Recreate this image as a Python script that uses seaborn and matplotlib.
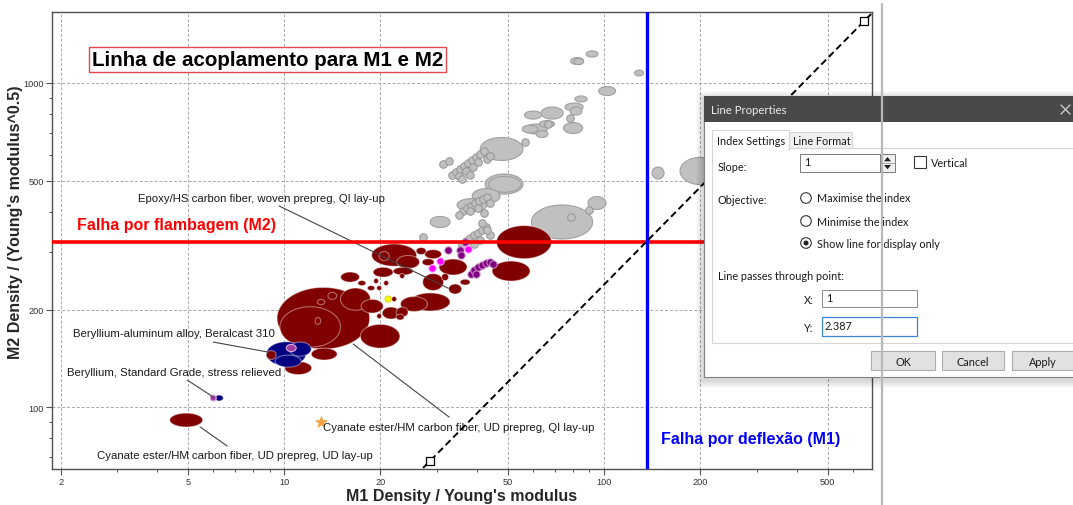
import numpy as np
import pandas as pd
import matplotlib
matplotlib.use("Agg")
import matplotlib.pyplot as plt
from matplotlib.patches import Rectangle, Circle, Polygon
from matplotlib.ticker import FixedLocator, FixedFormatter, LogLocator, NullFormatter
import seaborn as sns

sns.set_style("white")
plt.rcParams['font.family'] = ['Liberation Sans', 'DejaVu Sans']

# ---------------- data (property ranges: M1 lo/hi, M2 lo/hi) ----------------
red_x_lo = [9.5, 9.7, 17.3, 15.0, 17.4, 13.7, 12.7, 12.5, 10.04, 12.15, 18.77, 19.8, 15.02, 18.97, 21.9,
            22.47, 25.85, 26.99, 27.48, 30.48, 27.1, 31.05, 32.66, 35.48, 17.0, 18.2, 19.47, 19.05, 20.47,
            22.96, 21.67, 24.76, 23.1, 20.25, 22.39, 22.39, 19.47, 46.1, 44.67, 4.387, 8.79]
red_x_hi = [18.5, 15.0, 23.0, 18.6, 20.4, 14.6, 13.4, 13.0, 12.19, 14.64, 25.94, 21.3, 17.2, 21.9, 25.3,
            26.5, 27.79, 29.43, 31.05, 37.3, 31.5, 32.66, 35.87, 38.13, 18.0, 19.2, 20.17, 19.72, 21.2,
            23.8, 22.47, 33.0, 28.05, 23.04, 24.4, 23.71, 20.17, 68.5, 58.7, 5.564, 9.44]
red_y_lo = [151, 153, 152, 199, 195, 215, 207, 180, 126, 139.7, 272, 283, 243, 251.8, 255.5,
            267.6, 295.6, 273.3, 287, 255.5, 228.9, 245.7, 223.3, 238, 237, 228.9, 228.9, 240.6, 237,
            249.3, 211.6, 197.9, 197.2, 186.9, 189.6, 185.6, 187.5, 287, 244.8, 86.8, 140.2]
red_y_hi = [234, 204, 180, 233, 215, 226, 215, 189, 138.2, 152, 318.6, 302, 261, 270, 270,
            293.6, 310.6, 287, 306, 286.3, 258, 258.3, 239.7, 248, 245.7, 237, 237, 249.5, 245.7,
            258.3, 219.3, 225, 219.3, 203.5, 203.5, 193.6, 194.4, 363, 282.2, 95.8, 149.4]

navy_x_lo = [8.8, 10.37, 9.37, 6.085]
navy_x_hi = [11.7, 12.15, 11.3, 6.45]
navy_y_lo = [134, 143.6, 132.8, 104.4]
navy_y_hi = [159, 158.7, 144.6, 108.9]

purple_x_lo = [10.15, 5.873]
purple_x_hi = [10.9, 6.131]
purple_y_lo = [148.3, 104.4]
purple_y_hi = [156, 108.9]

yellow_x_lo = [20.68]
yellow_x_hi = [21.6]
yellow_y_lo = [210.9]
yellow_y_hi = [220]

gray_x_lo = [59.3, 89.1, 41.0, 42.5, 43.5, 38.7, 34.7, 28.6, 56.6, 61.3, 78.6, 80.5, 87.9, 124.6, 96.2,
             81.1, 75.5, 78.3, 63.5, 56.4, 62.8, 55.5, 74.7, 141.3, 172.8]
gray_x_hi = [92.1, 101.4, 55.8, 55.8, 55.0, 47.3, 43.1, 33.0, 66.4, 66.8, 86.3, 86.3, 95.7, 132.8, 108.6,
             88.5, 86.0, 85.3, 74.5, 63.8, 70.0, 62.2, 85.7, 154.0, 230.4]
gray_y_lo = [330, 407, 576.7, 454, 460, 424.9, 401.3, 358, 696, 678.9, 1140, 1140, 1202, 1051, 915,
             873.6, 819.6, 796, 774, 774, 729, 701, 698.5, 505.5, 486]
gray_y_hi = [420.3, 446.3, 678.9, 523.9, 515, 472, 440, 387.5, 747, 712.9, 1198, 1190, 1256, 1096, 975,
             912, 867, 843, 843, 819.6, 765.7, 741, 755, 550.5, 589]

# small materials drawn as dots
gray_dot_x = [33.5, 34.5, 35.5, 36.5, 37.6, 38.7, 39.8, 41.0, 42.2, 35.2, 37.1, 38.96, 40.4, 38.1, 36.0,
              43.1, 44.0, 31.4, 32.8,
              36.2, 37.3, 38.4, 39.5, 40.6, 41.9, 43.1, 38.0, 40.4, 44.0, 42.2,
              37.1, 38.1, 39.3, 40.4, 41.6, 42.8, 44.0, 41.0, 36.0, 39.3,
              89.8, 78.3, 35.2, 41.6, 27.2, 43.1, 66.8, 78.9, 56.6]
gray_dot_y = [520, 531, 542.7, 554.4, 566.2, 578.5, 591, 603.8, 616.6, 516, 534.8, 550.5, 570.4, 520, 505.5,
              582, 595, 562, 574,
              402.7, 411.3, 417, 426.3, 432.4, 438.6, 444.9, 402.7, 411.3, 426.3, 397,
              325, 332.4, 339.7, 344.6, 351.9, 359.4, 339.7, 327.6, 316, 318.6,
              405.6, 779.6, 391.4, 369.8, 334.8, 351.9, 747, 385.8, 657.7]

purple_dot_x = [38.4, 39.3, 40.4, 41.6, 42.8, 44.0, 45.0, 39.8, 32.6, 35.5, 35.7, 36.8]
purple_dot_y = [257.4, 264.8, 270.5, 274.3, 278.2, 280.2, 276.3, 257.4, 305.3, 305.3, 294.6, 322.9]

magenta_dot_x = [29.0, 30.7, 37.6]
magenta_dot_y = [268.5, 282.2, 307.4]

star_x = [13.05]
star_y = [89.9]

# index lines
line_slope = 1.0
line_x0, line_y0 = 1.0, 2.387
line_handle_x = [28.6, 649.0]
buckling_limit_m2 = 324.0
deflection_limit_m1 = 136.0

# annotations
ann_text = ["Epoxy/HS carbon fiber, woven prepreg, QI lay-up",
            "Beryllium-aluminum alloy, Beralcast 310",
            "Beryllium, Standard Grade, stress relieved",
            "Cyanate ester/HM carbon fiber, UD prepreg, UD lay-up",
            "Cyanate ester/HM carbon fiber, UD prepreg, QI lay-up"]
ann_tx = [3.5, 2.19, 2.10, 2.60, 13.24]
ann_ty = [441.6, 169.2, 128.2, 71.1, 86.8]
ann_x0 = [9.64, 6.0, 4.98, 5.46, 16.43]
ann_y0 = [417.4, 158.7, 121.1, 86.8, 156.5]
ann_x1 = [32.55, 8.91, 6.0, 6.64, 32.8]
ann_y1 = [232.8, 147.8, 107.4, 75.8, 93.1]

x_ticks = [2, 5, 10, 20, 50, 100, 200, 500]
y_ticks = [100, 200, 500, 1000]
x_lim = (1.88, 688)
y_lim = (64.4, 1656)

# ---------------- figure ----------------
W, H = 1073, 506
fig = plt.figure(figsize=(W / 100, H / 100), dpi=100)
fig.patch.set_facecolor('white')
ax = fig.add_axes([52 / W, 1 - 470 / H, 820 / W, 457 / H])
ax.set_xscale('log')
ax.set_yscale('log')
ax.set_xlim(*x_lim)
ax.set_ylim(*y_lim)

frames = []
for fam, xl, xh, yl, yh in [('red', red_x_lo, red_x_hi, red_y_lo, red_y_hi),
                            ('navy', navy_x_lo, navy_x_hi, navy_y_lo, navy_y_hi),
                            ('purple', purple_x_lo, purple_x_hi, purple_y_lo, purple_y_hi),
                            ('yellow', yellow_x_lo, yellow_x_hi, yellow_y_lo, yellow_y_hi),
                            ('gray', gray_x_lo, gray_x_hi, gray_y_lo, gray_y_hi)]:
    frames.append(pd.DataFrame({'family': fam, 'xlo': xl, 'xhi': xh, 'ylo': yl, 'yhi': yh}))
bub = pd.concat(frames, ignore_index=True)
bub['area'] = np.log10(bub.xhi / bub.xlo) * np.log10(bub.yhi / bub.ylo)
bub = bub.sort_values('area', ascending=False)

style = {'red': ('#800000', (1, 1, 1, 0.42)),
         'navy': ('#000080', (1, 1, 1, 0.42)),
         'purple': ('#a03ca0', '#e0a8e0'),
         'yellow': ('#ffff00', '#d8d800'),
         'gray': ('#c0c0c0', '#a0a0a0')}
t = np.linspace(0, 2 * np.pi, 120)
for _, r in bub.iterrows():
    lx0, lx1 = np.log10(r.xlo), np.log10(r.xhi)
    ly0, ly1 = np.log10(r.ylo), np.log10(r.yhi)
    xs = 10 ** ((lx0 + lx1) / 2 + (lx1 - lx0) / 2 * np.cos(t))
    ys = 10 ** ((ly0 + ly1) / 2 + (ly1 - ly0) / 2 * np.sin(t))
    fc, ec = style[r.family]
    ax.fill(xs, ys, facecolor=fc, edgecolor=ec, lw=0.8, zorder=2)

sns.scatterplot(x=gray_dot_x, y=gray_dot_y, s=30, color='#c0c0c0', edgecolor='#959595',
                linewidth=0.7, ax=ax, zorder=3, legend=False)
sns.scatterplot(x=purple_dot_x, y=purple_dot_y, s=28, color='#800080', edgecolor='#c890c8',
                linewidth=0.7, ax=ax, zorder=3, legend=False)
sns.scatterplot(x=magenta_dot_x, y=magenta_dot_y, s=28, color='#ff00ff', edgecolor='#ffb0ff',
                linewidth=0.7, ax=ax, zorder=3, legend=False)
sns.scatterplot(x=star_x, y=star_y, s=70, marker='*', color='#f5a040', edgecolor='#f5a040',
                ax=ax, zorder=3, legend=False)

# leader lines and labels
for txt, tx, ty, x0, y0, x1, y1 in zip(ann_text, ann_tx, ann_ty, ann_x0, ann_y0, ann_x1, ann_y1):
    ax.plot([x0, x1], [y0, y1], color='#444444', lw=0.8, zorder=4)
    ax.text(tx, ty, txt, fontsize=8.2, color='#1a1a1a', ha='left', va='center', zorder=5)

# limit lines
ax.axhline(buckling_limit_m2, color='#ff0000', lw=2.6, zorder=4)
ax.axvline(deflection_limit_m1, color='#0000ff', lw=2.4, zorder=4)
lx = np.array(x_lim)
ax.plot(lx, line_y0 * (lx / line_x0) ** line_slope, color='black', lw=1.4,
        ls=(0, (3.5, 2.0)), zorder=5)
hx = np.array(line_handle_x)
ax.plot(hx, line_y0 * (hx / line_x0) ** line_slope, ls='none', marker='s', ms=6,
        mfc='white', mec='black', mew=0.9, zorder=6)

# texts
ax.text(0.2628, 0.896, 'Linha de acoplamento para M1 e M2', transform=ax.transAxes,
        ha='center', va='center', fontsize=14.8, fontweight='bold', color='black', zorder=7,
        bbox=dict(boxstyle='square,pad=0.14', fc='white', ec='#e8474b', lw=1.0))
ax.text(0.1518, 0.534, 'Falha por flambagem (M2)', transform=ax.transAxes, ha='center', va='center',
        fontsize=11.5, fontweight='bold', color='#ff0000', zorder=7)
ax.text(0.852, 0.0657, 'Falha por deflexão (M1)', transform=ax.transAxes, ha='center', va='center',
        fontsize=11.5, fontweight='bold', color='#0000ff', zorder=7)

# axes styling
ax.xaxis.set_major_locator(FixedLocator(x_ticks))
ax.xaxis.set_major_formatter(FixedFormatter([str(v) for v in x_ticks]))
ax.yaxis.set_major_locator(FixedLocator(y_ticks))
ax.yaxis.set_major_formatter(FixedFormatter([str(v) for v in y_ticks]))
ax.xaxis.set_minor_locator(LogLocator(base=10, subs=np.arange(2, 10)))
ax.yaxis.set_minor_locator(LogLocator(base=10, subs=np.arange(2, 10)))
ax.xaxis.set_minor_formatter(NullFormatter())
ax.yaxis.set_minor_formatter(NullFormatter())
ax.tick_params(which='major', direction='out', length=4, width=0.8, color='#555555',
               labelsize=6.6, labelcolor='#333333', bottom=True, left=True, pad=2)
ax.tick_params(which='minor', direction='out', length=2.5, width=0.7, color='#555555',
               bottom=True, left=True)
ax.grid(True, which='major', ls=(0, (3, 2)), color='#a8a8a8', lw=0.7)
ax.set_axisbelow(True)
for s in ax.spines.values():
    s.set_color('#505050')
    s.set_linewidth(1.0)
    s.set_visible(True)
ax.set_xlabel("M1 Density / Young's modulus", fontsize=11.5, fontweight='bold', labelpad=1)
ax.set_ylabel("M2 Density / (Young's modulus^0.5)", fontsize=11.5, fontweight='bold')
ax.yaxis.set_label_coords(-0.035, 0.543)

# ---------------- overlay: window chrome and dialog ----------------
ov = fig.add_axes([0, 0, 1, 1], zorder=10)
ov.set_xlim(0, W)
ov.set_ylim(H, 0)
ov.axis('off')
ov.patch.set_alpha(0)
ov.plot([882, 882], [5, H], color='#b8b8b8', lw=1.6)

UI = dict(family=['Lato', 'DejaVu Sans'], fontsize=7.8, color='#1a1a1a', va='center')
for k in range(1, 9):
    ov.add_patch(Rectangle((704 - k, 97 - k + 3), 380 + 2 * k, 281 + 2 * k, fc='black',
                           ec='none', alpha=0.018))
ov.add_patch(Rectangle((704, 97), 380, 281, fc='white', ec='#808080', lw=0.8))
ov.add_patch(Rectangle((704, 97), 380, 26, fc='#4a4947', ec='none'))
ov.text(711, 110.5, 'Line Properties', **{**UI, 'color': '#ececec', 'fontsize': 8.2})
ov.plot([1061, 1070], [106, 115], color='#d8d8d8', lw=0.9)
ov.plot([1061, 1070], [115, 106], color='#d8d8d8', lw=0.9)

ov.add_patch(Rectangle((712, 149), 372, 195, fc='white', ec='#d6d6d6', lw=0.8))
ov.add_patch(Rectangle((789, 133), 63, 16, fc='#f0f0f0', ec='#d6d6d6', lw=0.8))
ov.add_patch(Rectangle((712, 131), 77, 18.5, fc='white', ec='#d6d6d6', lw=0.8))
ov.add_patch(Rectangle((712.6, 147.5), 75.8, 3, fc='white', ec='none'))
ov.text(717, 141, 'Index Settings', **UI)
ov.text(793, 141.5, 'Line Format', **UI)

ov.text(718, 167, 'Slope:', **UI)
ov.add_patch(Rectangle((800, 155), 80, 18, fc='white', ec='#7a7a7a', lw=0.7))
ov.text(804, 162.5, '1', **UI)
ov.add_patch(Rectangle((880, 155), 15, 18, fc='#f0f0f0', ec='#7a7a7a', lw=0.7))
ov.plot([880, 895], [164, 164], color='#9a9a9a', lw=0.6)
ov.add_patch(Polygon([(884, 162.3), (891, 162.3), (887.5, 158)], closed=True, fc='#222222', ec='none'))
ov.add_patch(Polygon([(884, 166), (891, 166), (887.5, 170.3)], closed=True, fc='#222222', ec='none'))
ov.add_patch(Rectangle((914, 157), 12, 12, fc='white', ec='#333333', lw=0.8))
ov.text(931, 163, 'Vertical', **UI)

ov.text(718, 200, 'Objective:', **UI)
for yy, lab in zip([199, 222, 244], ['Maximise the index', 'Minimise the index',
                                      'Show line for display only']):
    ov.add_patch(Circle((806, yy), 5.3, fc='white', ec='#333333', lw=0.8))
    ov.text(817, yy, lab, **UI)
ov.add_patch(Circle((806, 244), 2.5, fc='#222222', ec='none'))

ov.text(718, 276, 'Line passes through point:', **UI)
ov.text(804, 300.5, 'X:', **UI)
ov.add_patch(Rectangle((822, 291), 95, 17, fc='white', ec='#8a8a8a', lw=0.7))
ov.text(826, 298, '1', **UI)
ov.text(804, 328.5, 'Y:', **UI)
ov.add_patch(Rectangle((822, 318), 95, 19, fc='white', ec='#3c84d6', lw=0.9))
ov.text(825, 326, '2.387', **UI)

for x0, w, lab in [(871, 64, 'OK'), (942, 62, 'Cancel'), (1012, 72, 'Apply')]:
    ov.add_patch(Rectangle((x0, 352), w, 19, fc='#e1e1e1', ec='#adadad', lw=0.8))
ov.text(903, 362, 'OK', **{**UI, 'ha': 'center'})
ov.text(973, 362, 'Cancel', **{**UI, 'ha': 'center'})
ov.text(1043, 362, 'Apply', **{**UI, 'ha': 'center'})

fig.savefig('out.png', dpi=100, facecolor='white')
